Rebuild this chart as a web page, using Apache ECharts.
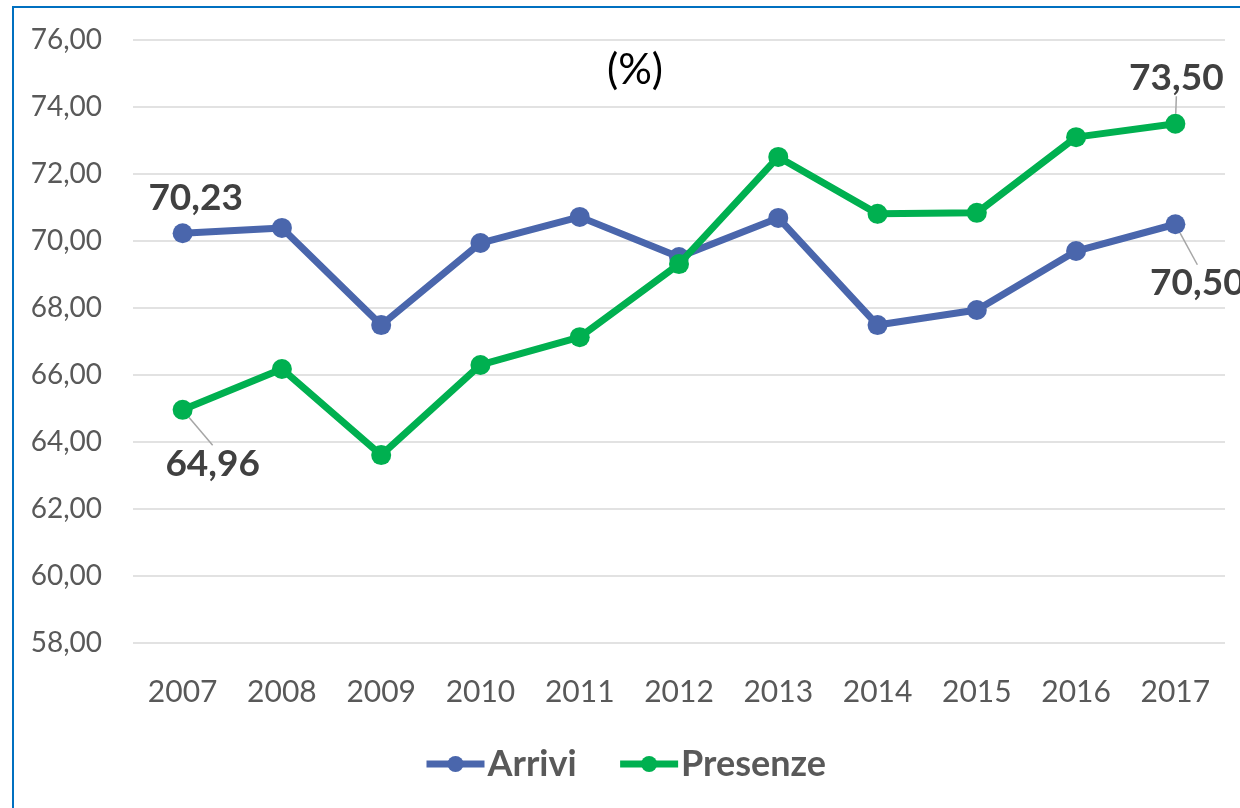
<!DOCTYPE html>
<html>
<head>
<meta charset="utf-8">
<script src="https://cdn.jsdelivr.net/npm/echarts@6/dist/echarts.min.js"></script>
<style>
  html, body { margin: 0; padding: 0; background: #fff; }
  #wrap { position: relative; width: 1240px; height: 808px; overflow: hidden; }
  #frame { position: absolute; left: 12px; top: 6px; width: 1300px; height: 900px; border: 2px solid #0070C0; box-sizing: border-box; }
  #chart { position: absolute; left: 0; top: 0; width: 1240px; height: 808px; }
</style>
</head>
<body>
<div id="wrap">
  <div id="frame"></div>
  <div id="chart"></div>
</div>
<script>
const years = ['2007', '2008', '2009', '2010', '2011', '2012', '2013', '2014', '2015', '2016', '2017'];
const arrivi = [70.23, 70.39, 67.49, 69.94, 70.72, 69.52, 70.69, 67.49, 67.94, 69.70, 70.50];
const presenze = [64.96, 66.18, 63.61, 66.30, 67.13, 69.31, 72.51, 70.81, 70.84, 73.10, 73.50];

// labelled points: [dx, dy, leader line?] relative to the point
const arriviLabels = { 0: [13, -35, false], 10: [22, 59, true] };
const presenzeLabels = { 0: [30, 54, true], 10: [1, -46, true] };

const fmt = (v) => v.toFixed(2).replace('.', ',');

function buildSeries(name, values, color, labels) {
  return {
    name,
    type: 'line',
    data: values.map((v, i) => {
      const l = labels[i];
      if (!l) return v;
      return { value: v, labelLine: { show: l[2] } };
    }),
    symbol: 'circle',
    symbolSize: 20,
    lineStyle: { color, width: 7 },
    itemStyle: { color },
    z: name === 'Presenze' ? 3 : 2,
    label: {
      show: true,
      position: 'inside',
      formatter: (p) => (labels[p.dataIndex] ? fmt(p.value) : ''),
      fontFamily: 'Lato',
      fontWeight: 'bold',
      fontSize: 37,
      color: '#404040'
    },
    labelLine: { show: true, lineStyle: { color: '#A6A6A6', width: 1.5 } },
    labelLayout: (p) => {
      const off = labels[p.dataIndex];
      if (!off) return {};
      return { dx: off[0], dy: off[1] };
    }
  };
}

const chart = echarts.init(document.getElementById('chart'), null, { renderer: 'canvas' });
chart.setOption({
  animation: false,
  title: {
    text: '(%)',
    left: 630,
    top: 44,
    textAlign: 'center',
    textStyle: { fontFamily: 'Lato', fontWeight: 'normal', fontSize: 42, color: '#000' }
  },
  grid: { left: 133, right: 15, top: 40, bottom: 165 },
  legend: {
    bottom: 21,
    left: 418,
    itemWidth: 58,
    itemHeight: 20,
    itemGap: 40,
    lineStyle: { width: 7 },
    textStyle: { fontFamily: 'Lato', fontWeight: 'bold', fontSize: 36, color: '#595959', padding: [0, 0, 0, -2] },
    data: ['Arrivi', 'Presenze']
  },
  xAxis: {
    type: 'category',
    data: years,
    boundaryGap: true,
    axisLine: { show: false },
    axisTick: { show: false },
    axisLabel: { fontFamily: 'Lato', fontSize: 30, color: '#595959', margin: 34 }
  },
  yAxis: {
    type: 'value',
    min: 58,
    max: 76,
    interval: 2,
    axisLine: { show: false },
    axisTick: { show: false },
    axisLabel: { fontFamily: 'Lato', fontSize: 28, color: '#595959', margin: 31, formatter: (v) => fmt(v) },
    splitLine: { lineStyle: { color: '#D9D9D9', width: 1.5 } }
  },
  series: [
    buildSeries('Arrivi', arrivi, '#4A66AC', arriviLabels),
    buildSeries('Presenze', presenze, '#00B050', presenzeLabels)
  ]
});
</script>
</body>
</html>
